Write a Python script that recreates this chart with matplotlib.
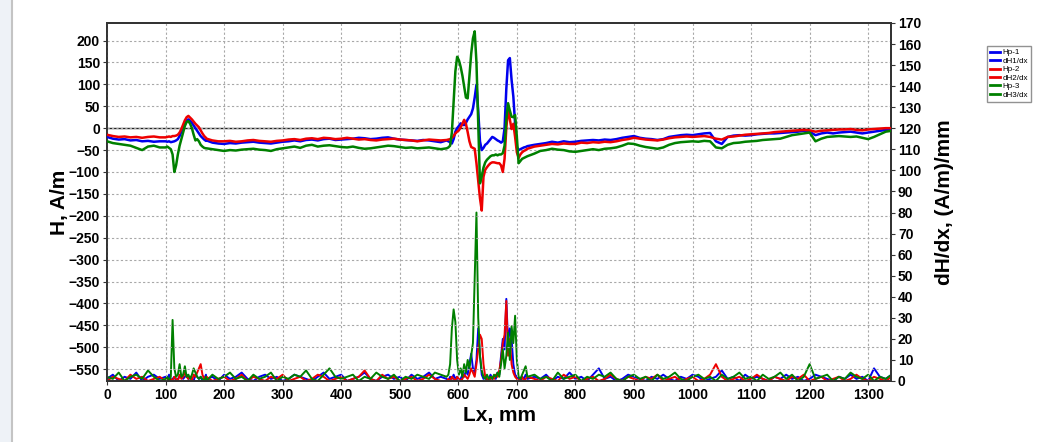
import matplotlib.pyplot as plt
from matplotlib.lines import Line2D
from matplotlib.patches import Rectangle

# sampling positions along Lx, mm (coarse on flat parts, finer near the defects)
LX = (list(range(0, 100, 10)) + list(range(100, 170, 3)) + list(range(170, 580, 10))
      + list(range(580, 721, 3)) + list(range(730, 1341, 10)))

# field H, A/m (left axis)
HP1 = [-20, -24, -26, -25, -28, -27, -30, -29, -31, -30,
       -30, -31, -30, -32, -31, -30, -28, -25, -18, -8, 2, 12, 18, 20, 17, 12, 6, 0, -6, -12, -18, -22, -26, -29,
       -28, -33, -35, -36, -34, -35, -33, -32, -31, -33, -34, -35, -33, -31, -30, -28, -30, -27, -26, -28,
       -25, -24, -27, -26, -25, -24, -22, -23, -25, -24, -22, -21, -24, -26, -27, -28, -29, -27, -28, -30, -32,
       -28, -30, -32, -35, -25, -8, 0, 5, 11, 8, 7, 12, 20, 26, 32, 45, 70, 99, 40, -30,
       -50, -45, -38, -35, -30, -25, -20, -22, -25, -28, -30, -33, -30, 0, 90, 155, 160, 110, 72, 10,
       -43, -50, -48, -46, -44, -43, -41,
       -38, -36, -34, -31, -33, -30, -32, -31, -29, -28, -27, -28, -26, -27, -25, -22, -20, -18, -22, -24,
       -25, -27, -25, -20, -18, -16, -15, -16, -14, -12, -11, -30, -36, -20, -17, -16, -17, -16, -14, -13,
       -12, -12, -11, -10, -9, -8, -6, -8, -16, -12, -10, -12, -10, -9, -8, -10, -12, -10, -8, -6, -4, -3]
HP2 = [-15, -18, -20, -19, -21, -20, -22, -20, -19, -21,
       -21, -20, -19, -20, -18, -18, -17, -15, -10, -2, 8, 18, 25, 28, 24, 20, 15, 10, 6, 2, -5, -12, -18, -22,
       -24, -28, -30, -30, -29, -31, -30, -28, -27, -29, -30, -31, -29, -28, -26, -25, -27, -24, -23, -25,
       -22, -23, -25, -24, -22, -24, -26, -25, -27, -28, -26, -25, -24, -26, -27, -28, -30, -28, -26, -27, -28,
       -27, -26, -25, -22, -18, -12, -8, -5, 2, 10, 19, 10, -9, -30, -43, -45, -47, -80, -119, -160,
       -188, -111, -95, -89, -84, -80, -78, -78, -79, -80, -80, -85, -100, -70, 0, 45, 20, -2, 10, -20,
       -55, -68, -60, -55, -52, -50, -47,
       -42, -40, -38, -36, -37, -35, -36, -36, -33, -34, -32, -33, -31, -32, -30, -27, -25, -22, -24, -26,
       -27, -28, -26, -23, -21, -20, -19, -20, -19, -18, -20, -24, -26, -20, -19, -17, -15, -14, -13, -12,
       -11, -9, -8, -7, -6, -5, -4, -5, -8, -6, -5, -4, -3, -3, -2, -4, -5, -3, -2, -1, 0, 0]
HP3 = [-30, -34, -36, -38, -40, -45, -50, -42, -40, -44,
       -44, -42, -45, -48, -60, -100, -85, -60, -40, -25, -10, 5, 14, 16, 10, 0, -15, -28, -25, -30, -38, -42, -45, -46,
       -46, -48, -50, -52, -50, -51, -49, -48, -47, -49, -50, -52, -48, -46, -44, -42, -45, -40, -38, -42,
       -40, -39, -41, -43, -44, -42, -45, -47, -46, -44, -42, -40, -41, -43, -45, -44, -46, -45, -44, -46, -48,
       -46, -44, -40, -10, 60, 130, 163, 155, 140, 120, 95, 70, 68, 120, 170, 205, 221, 150, 10, -126,
       -110, -90, -78, -72, -68, -64, -62, -62, -60, -62, -60, -60, -57, -40, 20, 57, 40, 26, 25, 30,
       -20, -80, -75, -70, -68, -66, -64,
       -58, -52, -50, -47, -49, -50, -53, -54, -52, -50, -48, -50, -47, -46, -44, -40, -35, -36, -40, -43,
       -45, -47, -44, -38, -34, -32, -31, -30, -31, -29, -30, -44, -46, -38, -34, -33, -31, -30, -29, -27,
       -26, -25, -24, -20, -16, -14, -12, -10, -30, -24, -20, -19, -18, -19, -20, -19, -22, -25, -20, -14, -8, -6]

# gradient dH/dx, (A/m)/mm (right axis)
DH1 = [1, 3, 0, 2, 1, 4, 0, 2, 3, 1,
       2, 1, 3, 0, 1, 2, 0, 1, 2, 3, 1, 2, 3, 1, 2, 1, 0, 3, 2, 1, 2, 0, 1, 3,
       1, 2, 0, 3, 1, 2, 4, 1, 0, 2, 3, 1, 2, 0, 1, 3, 2, 1, 0, 2, 4, 1, 2, 3, 0, 1, 2, 4, 1, 0,
       2, 3, 1, 2, 0, 3, 1, 2, 4, 1, 2,
       1, 0, 2, 1, 3, 1, 2, 0, 1, 3, 2, 5, 3, 8, 13, 6, 4, 10, 25, 12, 3, 1, 2, 0, 1, 3, 1, 2, 1, 4,
       3, 12, 20, 15, 39, 18, 25, 20, 8, 3, 2, 1, 0, 2, 1, 3, 1,
       2, 1, 3, 0, 2, 1, 4, 1, 2, 0, 3, 6, 1, 2, 0, 1, 3, 2, 1, 0, 2, 1, 3, 1, 0, 2, 1, 3, 2, 0,
       1, 2, 5, 1, 2, 0, 3, 1, 2, 1, 0, 2, 1, 3, 1, 2, 0, 1, 3, 2, 1, 0, 2, 1, 3, 1, 2, 0, 6, 2, 1, 3]
DH2 = [0, 2, 1, 0, 3, 1, 2, 0, 1, 2,
       0, 1, 0, 1, 0, 2, 1, 0, 3, 1, 2, 4, 2, 1, 2, 0, 3, 2, 4, 6, 8, 3, 1, 2,
       2, 0, 1, 2, 0, 1, 3, 0, 2, 1, 0, 2, 1, 3, 0, 1, 2, 0, 1, 3, 2, 0, 1, 2, 0, 1, 2, 5, 1, 0,
       3, 1, 2, 0, 1, 2, 0, 1, 3, 1, 0,
       0, 1, 0, 2, 1, 0, 2, 1, 0, 1, 3, 2, 1, 3, 6, 4, 2, 8, 15, 22, 20, 8, 2, 1, 0, 1, 2, 1, 3, 2,
       5, 10, 18, 22, 38, 12, 20, 8, 4, 2, 1, 0, 1, 2, 0, 1, 2,
       1, 0, 2, 1, 0, 3, 1, 2, 0, 1, 2, 0, 1, 3, 1, 0, 2, 1, 0, 2, 1, 3, 0, 1, 2, 0, 1, 2, 0, 1,
       3, 8, 2, 0, 1, 2, 0, 1, 3, 1, 0, 2, 1, 0, 2, 1, 3, 0, 1, 2, 0, 1, 2, 0, 1, 3, 1, 0, 2, 1, 0, 2]
DH3 = [2, 1, 4, 0, 2, 3, 1, 5, 2, 0,
       1, 2, 0, 2, 29, 6, 2, 3, 8, 2, 3, 7, 2, 3, 1, 3, 6, 4, 2, 1, 2, 1, 0, 2,
       0, 3, 1, 2, 4, 1, 2, 0, 3, 1, 2, 4, 0, 2, 1, 3, 2, 5, 1, 0, 3, 6, 2, 1, 2, 3, 0, 2, 1, 4,
       2, 1, 3, 0, 2, 1, 3, 2, 1, 4, 3,
       2, 3, 8, 25, 34, 28, 10, 3, 6, 2, 8, 4, 10, 6, 12, 18, 50, 80, 30, 12, 5, 2, 1, 3, 1, 2, 1, 3, 2, 4,
       2, 8, 15, 6, 12, 23, 10, 26, 18, 31, 10, 2, 1, 3, 5, 7, 2,
       3, 1, 2, 0, 4, 1, 2, 3, 0, 2, 1, 3, 2, 4, 1, 0, 2, 3, 1, 2, 0, 3, 1, 2, 4, 1, 0, 2, 3, 1,
       2, 0, 3, 1, 2, 4, 1, 2, 0, 3, 1, 2, 4, 1, 3, 0, 2, 8, 1, 2, 3, 0, 2, 1, 4, 2, 1, 3, 0, 2, 1, 3]

LABELS = ['Hp-1', 'dH1/dx', 'Hp-2', 'dH2/dx', 'Hp-3', 'dH3/dx']
COLORS = ['#0000ee', '#0000ee', '#ee0000', '#ee0000', '#008000', '#008000']

for s in (HP1, HP2, HP3, DH1, DH2, DH3):
    assert len(s) == len(LX), len(s)

plt.rcParams['font.family'] = ['Liberation Sans', 'DejaVu Sans']
plt.rcParams['font.weight'] = 'bold'

fig = plt.figure(figsize=(10.55, 4.42), dpi=100)
fig.patches.append(Rectangle((0, 0), 12 / 1055, 1, transform=fig.transFigure,
                             facecolor='#eef2f7', edgecolor='none'))
fig.lines.append(Line2D([12 / 1055, 12 / 1055], [0, 1], transform=fig.transFigure,
                        color='#c4c4c4', lw=1.5))

ax = fig.add_axes([107 / 1055, 1 - 381 / 442, (891 - 107) / 1055, (381 - 23) / 442])
ax2 = ax.twinx()

ax.set_xlim(0, 1339)
ax.set_ylim(-577, 240)
ax2.set_ylim(0, 170)

ax.set_xticks(range(0, 1301, 100))
ax.set_yticks(range(-550, 201, 50))
ax2.set_yticks(range(0, 171, 10))

ax.grid(True, color='#a8a8a8', linestyle=(0, (2, 2)), linewidth=0.8)
ax.axhline(0, color='#222222', lw=1.0, zorder=1)

series_h = [HP1, HP2, HP3]
series_d = [DH1, DH2, DH3]
for i in range(3):
    ax2.plot(LX, series_d[i], color=COLORS[2 * i + 1], lw=1.4, zorder=2)
for i in range(3):
    ax.plot(LX, series_h[i], color=COLORS[2 * i], lw=1.8, zorder=3)
ax.set_zorder(ax2.get_zorder() + 1)
ax.patch.set_visible(False)

for a in (ax, ax2):
    for sp in a.spines.values():
        sp.set_color('#333333')
        sp.set_linewidth(1.3)
    a.tick_params(labelsize=10, length=3, color='#333333', pad=2)

ax.set_xlabel('Lx, mm', fontsize=15, fontweight='bold', labelpad=3)
ax.set_ylabel('H, A/m', fontsize=15, fontweight='bold', labelpad=0)
ax2.set_ylabel('dH/dx, (A/m)/mm', fontsize=15, fontweight='bold', labelpad=10)

handles = [Line2D([], [], color=c, lw=2) for c in COLORS]
fig.legend(handles, LABELS, loc='upper left', bbox_to_anchor=(983 / 1055, 1 - 42 / 442),
           handlelength=1.3, handletextpad=0.3, labelspacing=0.1,
           borderpad=0.35, frameon=True, fancybox=False, edgecolor='#777777',
           prop={'weight': 'normal', 'size': 5.8})

fig.savefig('out.png', dpi=100)
